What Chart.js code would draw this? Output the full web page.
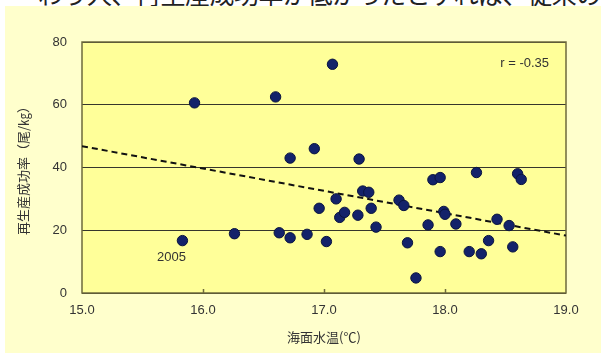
<!DOCTYPE html>
<html>
<head>
<meta charset="utf-8">
<script src="https://cdn.jsdelivr.net/npm/chart.js@4.4.1/dist/chart.umd.min.js"></script>
<style>
    html, body { margin: 0; padding: 0; background: #fff; overflow: hidden; }
    #wrap { position: relative; width: 601px; height: 353px; }
    #chart { position: absolute; left: 0; top: 0; }
    #lead {
        position: absolute; left: 38px; top: -19px;
        font-family: "Noto Sans CJK JP", sans-serif; font-size: 25px; line-height: 25px;
        color: #222; white-space: nowrap; letter-spacing: -0.5px;
    }
</style>
</head>
<body>
<div id="wrap">
    <div id="lead">わう人、再生産成功率が低かったとすれば、従来の</div>
    <canvas id="chart" width="601" height="353"></canvas>
</div>
<script>
// Sea surface temperature vs. recruitment success rate

// Data
const sstValues = [
    15.83, 15.93, 16.26, 16.60, 16.63, 16.72, 16.72, 16.86, 16.92, 16.96,
    17.02, 17.07, 17.10, 17.13, 17.17, 17.28, 17.29, 17.32, 17.37, 17.39,
    17.43, 17.62, 17.66, 17.69, 17.76, 17.86, 17.90, 17.96, 17.96, 17.99,
    18.00, 18.09, 18.20, 18.26, 18.30, 18.36, 18.43, 18.53, 18.56, 18.60,
    18.63
];
const rpsValues = [
    16.7, 60.6, 18.9, 62.5, 19.2, 43.0, 17.6, 18.7, 46.0, 27.0,
    16.4, 72.9, 30.0, 24.1, 25.7, 24.8, 42.7, 32.5, 32.1, 27.0,
    21.0, 29.6, 27.9, 16.0, 4.8, 21.7, 36.1, 36.8, 13.2, 26.0,
    25.1, 22.0, 13.2, 38.4, 12.5, 16.7, 23.5, 21.5, 14.7, 38.0,
    36.2
];
const trendX = [15.0, 19.0];
const trendY = [46.8, 18.3];

const xTicks = [15, 16, 17, 18, 19];
const yTicks = [0, 20, 40, 60, 80];

const xTitle = '海面水温(℃)';
const yTitle = '再生産成功率（尾/㎏）';
const rLabel = 'r = -0.35';
const yearLabel = '2005';

// Colours
const PANEL_BG = '#ffffcc';
const PLOT_BG = '#ffff99';
const FRAME = '#6e6a3c';
const GRID = '#36362c';
const DOT = '#13226a';
const TEXT = '#333333';
const FONT = '"Liberation Sans", Arial, sans-serif';
const CJK = '"Noto Sans CJK JP", sans-serif';

// Backgrounds, frame, inner ticks and text labels
const plotDecor = {
    id: 'plotDecor',
    beforeDraw(chart) {
        const { ctx, chartArea: a } = chart;
        ctx.save();
        ctx.fillStyle = PANEL_BG;
        ctx.fillRect(5, 6, chart.width - 5, chart.height - 6);
        ctx.fillStyle = PLOT_BG;
        ctx.fillRect(a.left, a.top, a.right - a.left, a.bottom - a.top);
        ctx.restore();
    },
    beforeDatasetsDraw(chart) {
        const { ctx, chartArea: a } = chart;
        const xs = chart.scales.x;
        ctx.save();
        ctx.strokeStyle = FRAME;
        ctx.lineWidth = 1.5;
        ctx.strokeRect(a.left, a.top, a.right - a.left, a.bottom - a.top);
        ctx.beginPath();
        xTicks.slice(1, -1).forEach(v => {
            const px = Math.round(xs.getPixelForValue(v)) + 0.5;
            ctx.moveTo(px, a.bottom);
            ctx.lineTo(px, a.bottom - 4);
        });
        ctx.stroke();
        ctx.restore();
    },
    afterDatasetsDraw(chart) {
        const { ctx } = chart;
        const xs = chart.scales.x, ys = chart.scales.y;
        ctx.save();
        ctx.fillStyle = TEXT;
        ctx.font = '13px ' + FONT;
        ctx.textBaseline = 'middle';
        ctx.textAlign = 'right';
        ctx.fillText(rLabel, xs.getPixelForValue(18.86), ys.getPixelForValue(73.3));
        ctx.textAlign = 'center';
        ctx.fillText(yearLabel, xs.getPixelForValue(15.74), ys.getPixelForValue(11.4));
        ctx.restore();
    }
};

const ctx = document.getElementById('chart').getContext('2d');
new Chart(ctx, {
    type: 'scatter',
    data: {
        datasets: [{
            label: 'points',
            data: sstValues.map((x, i) => ({ x: x, y: rpsValues[i] })),
            backgroundColor: DOT,
            borderColor: '#0a143f',
            borderWidth: 1,
            pointRadius: 5.2,
            order: 0
        }, {
            label: 'trend',
            type: 'line',
            data: trendX.map((x, i) => ({ x: x, y: trendY[i] })),
            borderColor: '#111',
            borderWidth: 2,
            borderDash: [6, 4],
            pointRadius: 0,
            fill: false,
            order: 1
        }]
    },
    options: {
        responsive: false,
        animation: false,
        events: [],
        layout: {
            autoPadding: false,
            padding: { left: 0, top: 42, right: 35, bottom: 0 }
        },
        plugins: {
            legend: { display: false },
            tooltip: { enabled: false }
        },
        scales: {
            x: {
                type: 'linear',
                min: xTicks[0],
                max: xTicks[xTicks.length - 1],
                afterFit: scale => { scale.height = 60; },
                afterBuildTicks: scale => { scale.ticks = xTicks.map(v => ({ value: v })); },
                grid: { display: false, drawTicks: false },
                border: { display: false },
                ticks: {
                    padding: 10,
                    color: TEXT,
                    font: { family: FONT, size: 13 },
                    callback: v => v.toFixed(1)
                },
                title: {
                    display: true,
                    text: xTitle,
                    color: TEXT,
                    font: { family: CJK, size: 13 },
                    padding: { top: 0, bottom: 8 }
                }
            },
            y: {
                min: yTicks[0],
                max: yTicks[yTicks.length - 1],
                afterFit: scale => { scale.width = 82; },
                afterBuildTicks: scale => { scale.ticks = yTicks.map(v => ({ value: v })); },
                grid: {
                    color: GRID,
                    lineWidth: 1,
                    drawTicks: false
                },
                border: { display: false },
                ticks: {
                    padding: 15,
                    color: TEXT,
                    font: { family: FONT, size: 13 }
                },
                title: {
                    display: true,
                    text: yTitle,
                    color: TEXT,
                    font: { family: CJK, size: 13 },
                    padding: { top: 15, bottom: 0 }
                }
            }
        }
    },
    plugins: [plotDecor]
});
</script>
</body>
</html>
